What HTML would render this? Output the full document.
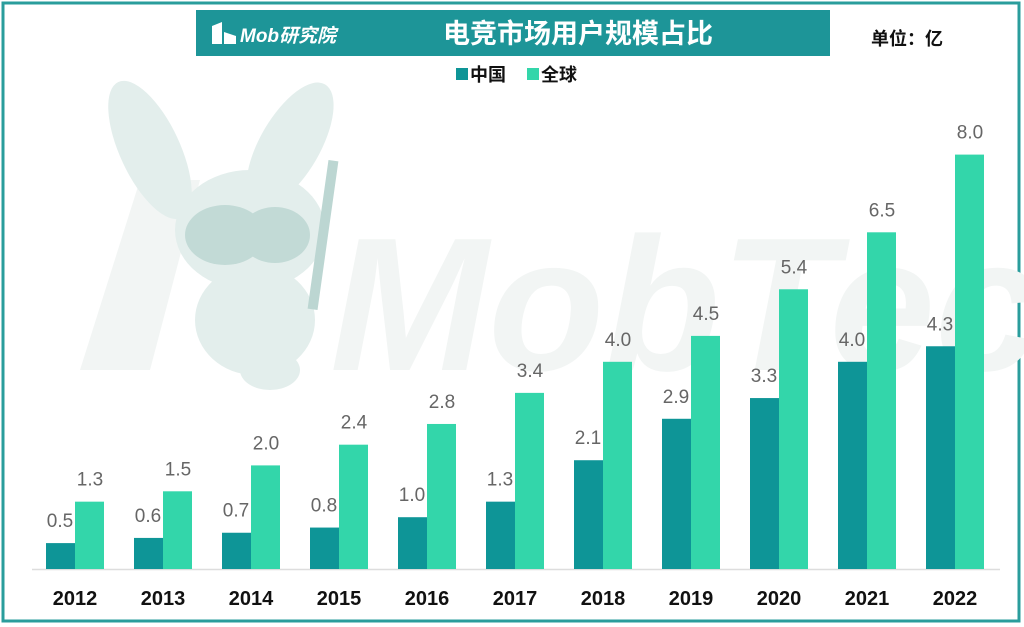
<!DOCTYPE html>
<html><head><meta charset="utf-8"><style>
body{margin:0;background:#fff;}
svg{display:block;font-family:"Liberation Sans","Noto Sans CJK SC",sans-serif;}
</style></head><body>
<svg width="1024" height="627" viewBox="0 0 1024 627">
<rect x="0" y="0" width="1024" height="627" fill="#fff"/>
<rect x="3" y="3" width="1016" height="618" fill="none" stroke="#2a9d9c" stroke-width="3"/>
<text x="330" y="370" font-size="190" font-style="italic" font-weight="bold" fill="#f2f5f4">MobTech</text>
<polygon points="80,370 140,180 200,180 150,370" fill="#f2f5f4"/>
<g fill="#e3eeec">
<ellipse cx="150" cy="150" rx="30" ry="75" transform="rotate(-25 150 150)"/>
<ellipse cx="290" cy="145" rx="30" ry="70" transform="rotate(30 290 145)"/>
<ellipse cx="250" cy="230" rx="75" ry="60"/>
<ellipse cx="255" cy="320" rx="60" ry="55"/>
<ellipse cx="270" cy="370" rx="30" ry="20"/>
<rect x="318" y="160" width="10" height="150" fill="#bcd6d2" transform="rotate(8 323 235)"/>
</g>
<g fill="#c2dad6"><ellipse cx="225" cy="235" rx="40" ry="30"/><ellipse cx="275" cy="235" rx="35" ry="28"/></g>
<rect x="196" y="10" width="634" height="46" fill="#1d9598"/>
<polygon points="212,44 212,26 222,22 222,44" fill="#fff"/><polygon points="224,44 224,32 236,36 236,44" fill="#fff"/>
<text x="240" y="42" font-size="19" font-style="italic" font-weight="bold" fill="#fff">Mob研究院</text>
<text x="578" y="43" font-size="27" font-weight="bold" fill="#fff" text-anchor="middle">电竞市场用户规模占比</text>
<text x="907" y="45" font-size="18" font-weight="bold" fill="#111" text-anchor="middle">单位：亿</text>
<rect x="456" y="68" width="12" height="12" fill="#0e9597"/>
<text x="470" y="81" font-size="18" font-weight="bold" fill="#111">中国</text>
<rect x="527" y="68" width="12" height="12" fill="#33d6aa"/>
<text x="541" y="81" font-size="18" font-weight="bold" fill="#111">全球</text>
<line x1="32" y1="569.5" x2="1000" y2="569.5" stroke="#ddd" stroke-width="1.5"/>
<g id="bars" font-size="19">
</g>
</svg>
<script>
var c=[0.5,0.6,0.7,0.8,1.0,1.3,2.1,2.9,3.3,4.0,4.3],g=[1.3,1.5,2.0,2.4,2.8,3.4,4.0,4.5,5.4,6.5,8.0];
var s='',k=51.8,base=569;
for(var i=0;i<11;i++){var x=46+i*88,hc=c[i]*k,hg=g[i]*k;
s+='<rect x="'+x+'" y="'+(base-hc)+'" width="29" height="'+hc+'" fill="#0e9597"/>';
s+='<rect x="'+(x+29)+'" y="'+(base-hg)+'" width="29" height="'+hg+'" fill="#33d6aa"/>';
s+='<text x="'+(x+14)+'" y="'+(base-hc-16)+'" fill="#666" text-anchor="middle">'+c[i].toFixed(1)+'</text>';
s+='<text x="'+(x+44)+'" y="'+(base-hg-16)+'" fill="#666" text-anchor="middle">'+g[i].toFixed(1)+'</text>';
s+='<text x="'+(x+29)+'" y="605" fill="#111" font-size="20" font-weight="bold" text-anchor="middle">'+(2012+i)+'</text>';}
document.getElementById('bars').innerHTML=s;
</script>
</body></html>
